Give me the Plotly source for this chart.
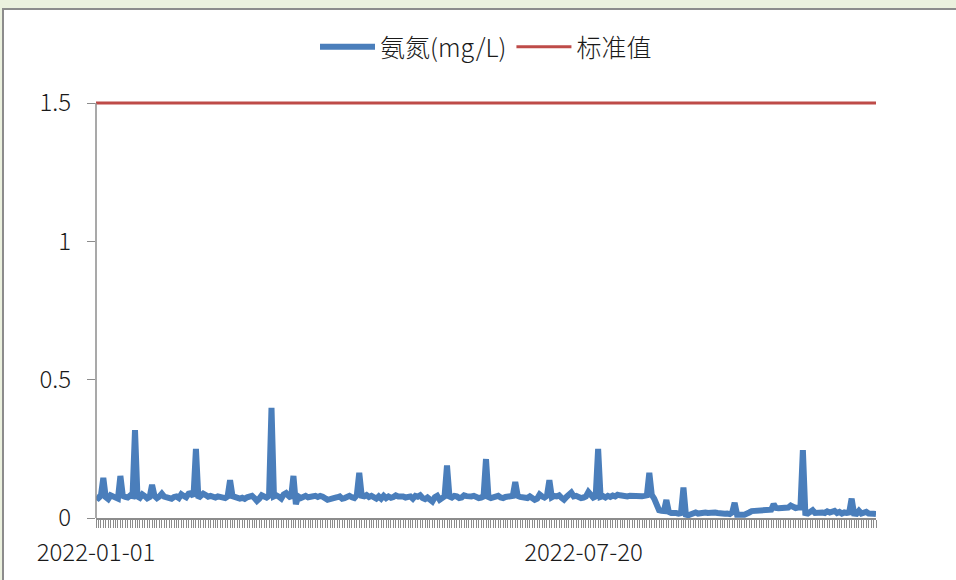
import pandas as pd
import plotly.graph_objects as go

# ---- data ----
start_date = "2022-01-01"
tick_labels = ["2022-01-01", "2022-07-20"]
series_names = ["氨氮(mg/L)", "标准值"]
standard_value = 1.5

nh3 = [
    0.078, 0.072, 0.080, 0.145, 0.075, 0.068, 0.082, 0.078, 0.072, 0.070, 0.152, 0.080, 0.076, 0.074, 0.081, 0.079, 0.318, 0.078, 0.073, 0.085,
    0.079, 0.071, 0.076, 0.120, 0.080, 0.072, 0.078, 0.088, 0.077, 0.074, 0.073, 0.070, 0.076, 0.078, 0.072, 0.086, 0.080, 0.075, 0.088, 0.090,
    0.078, 0.250, 0.072, 0.081, 0.088, 0.083, 0.077, 0.080, 0.076, 0.074, 0.078, 0.075, 0.073, 0.072, 0.078, 0.137, 0.079, 0.076, 0.074, 0.070,
    0.073, 0.069, 0.075, 0.078, 0.080, 0.072, 0.062, 0.070, 0.082, 0.078, 0.074, 0.080, 0.398, 0.078, 0.082, 0.077, 0.070, 0.085, 0.090, 0.080,
    0.072, 0.152, 0.050, 0.078, 0.072, 0.076, 0.080, 0.075, 0.078, 0.082, 0.080, 0.076, 0.080, 0.077, 0.068, 0.066, 0.068, 0.070, 0.068, 0.075,
    0.078, 0.070, 0.072, 0.078, 0.080, 0.075, 0.072, 0.082, 0.163, 0.080, 0.078, 0.083, 0.076, 0.080, 0.072, 0.070, 0.078, 0.070, 0.080, 0.072,
    0.078, 0.073, 0.076, 0.082, 0.078, 0.080, 0.078, 0.074, 0.076, 0.078, 0.070, 0.080, 0.077, 0.082, 0.072, 0.068, 0.074, 0.068, 0.060, 0.075,
    0.080, 0.066, 0.072, 0.078, 0.190, 0.078, 0.074, 0.080, 0.078, 0.072, 0.074, 0.082, 0.079, 0.076, 0.078, 0.080, 0.076, 0.072, 0.074, 0.078,
    0.213, 0.076, 0.072, 0.074, 0.078, 0.080, 0.074, 0.072, 0.076, 0.078, 0.077, 0.080, 0.130, 0.080, 0.076, 0.074, 0.075, 0.072, 0.078, 0.074,
    0.066, 0.070, 0.085, 0.078, 0.074, 0.080, 0.137, 0.075, 0.080, 0.078, 0.082, 0.073, 0.066, 0.076, 0.088, 0.092, 0.078, 0.080, 0.076, 0.072,
    0.074, 0.078, 0.094, 0.080, 0.074, 0.078, 0.250, 0.076, 0.079, 0.074, 0.080, 0.076, 0.081, 0.078, 0.084, 0.082, 0.080, 0.076, 0.078, 0.080,
    0.079, 0.078, 0.080, 0.078, 0.079, 0.080, 0.082, 0.163, 0.084, 0.070, 0.040, 0.028, 0.026, 0.025, 0.065, 0.022, 0.018, 0.020, 0.018, 0.016,
    0.018, 0.110, 0.012, 0.010, 0.012, 0.018, 0.020, 0.016, 0.018, 0.022, 0.020, 0.018, 0.020, 0.018, 0.020, 0.018, 0.016, 0.018, 0.015, 0.016,
    0.014, 0.020, 0.055, 0.012, 0.010, 0.012, 0.012, 0.014, 0.020, 0.025, 0.026, 0.026, 0.027, 0.027, 0.028, 0.028, 0.030, 0.030, 0.050, 0.036,
    0.035, 0.036, 0.035, 0.036, 0.038, 0.045, 0.038, 0.036, 0.038, 0.038, 0.245, 0.018, 0.016, 0.020, 0.028, 0.018, 0.020, 0.022, 0.020, 0.018,
    0.024, 0.020, 0.022, 0.026, 0.018, 0.022, 0.016, 0.020, 0.018, 0.020, 0.070, 0.016, 0.015, 0.026, 0.016, 0.018, 0.022, 0.016, 0.018, 0.015,
    0.014,
]

dates = pd.date_range(start_date, periods=len(nh3), freq="D")
standard = [standard_value] * len(nh3)

FONT = "Noto Sans CJK SC, Noto Sans, sans-serif"
BLUE = "#4A7EBB"
RED = "#BE4B48"
GREY = "#8C8C8C"
TXT = "#1a1a1a"

W, H = 956, 580
L, R = 96, 876
Y0, Y15 = 518, 103
ppu = (Y0 - Y15) / 1.5
T = 96
ytop = (Y0 - T) / ppu

fig = go.Figure()
fig.add_trace(go.Scatter(x=dates, y=nh3, mode="lines", name=series_names[0],
                         line=dict(color=BLUE, width=6, shape="linear")))
fig.add_trace(go.Scatter(x=dates, y=standard, mode="lines", name=series_names[1],
                         line=dict(color=RED, width=3)))

pw = R - L
ph = Y0 - T
# white panel with grey border over light green background
fig.add_shape(type="rect", xref="paper", yref="paper",
              x0=(3 - L) / pw, x1=(W + 20 - L) / pw,
              y0=-(H + 20 - Y0) / ph, y1=(Y0 - 9) / ph,
              fillcolor="white", line=dict(color=GREY, width=2), layer="below")
# y axis line from 0 to 1.5
fig.add_shape(type="line", xref="paper", yref="y", x0=0, x1=0, y0=0, y1=1.5,
              line=dict(color=GREY, width=1.5), layer="above")

fig.update_layout(
    width=W, height=H,
    margin=dict(l=L, r=W - R, t=T, b=H - Y0),
    paper_bgcolor="#EBF1DE",
    plot_bgcolor="white",
    font=dict(family=FONT, color=TXT),
    showlegend=True,
    legend=dict(orientation="h", x=0.5, xanchor="center", y=(Y0 - 47) / ph, yanchor="middle",
                font=dict(size=25, family=FONT, color=TXT, weight=300), bgcolor="rgba(0,0,0,0)",
                itemwidth=55),
)
fig.update_xaxes(
    type="date",
    range=[dates[0], dates[-1]],
    tickvals=[pd.Timestamp(t) for t in tick_labels],
    ticktext=tick_labels,
    showgrid=False, zeroline=False,
    showline=True, linecolor=GREY, linewidth=1.5,
    ticks="outside", ticklen=8, tickcolor=GREY, tickwidth=1,
    minor=dict(dtick=86400000, ticks="outside", ticklen=8, tickcolor=GREY, tickwidth=1, showgrid=False),
    tickfont=dict(size=24, family=FONT, color=TXT, weight=300),
    ticklabelstandoff=4,
)
fig.update_yaxes(
    range=[0, ytop],
    tickvals=[0, 0.5, 1, 1.5],
    ticktext=["0", "0.5", "1", "1.5"],
    showgrid=False, zeroline=False, showline=False,
    ticks="outside", ticklen=8, tickcolor=GREY,
    tickfont=dict(size=24, family=FONT, color=TXT, weight=300),
    ticklabelstandoff=11,
)

fig.write_html(
    "out.html",
    config={"displayModeBar": False},
    post_script="document.body.style.margin='0';document.body.style.overflow='hidden';document.body.style.background='#EBF1DE';",
)
